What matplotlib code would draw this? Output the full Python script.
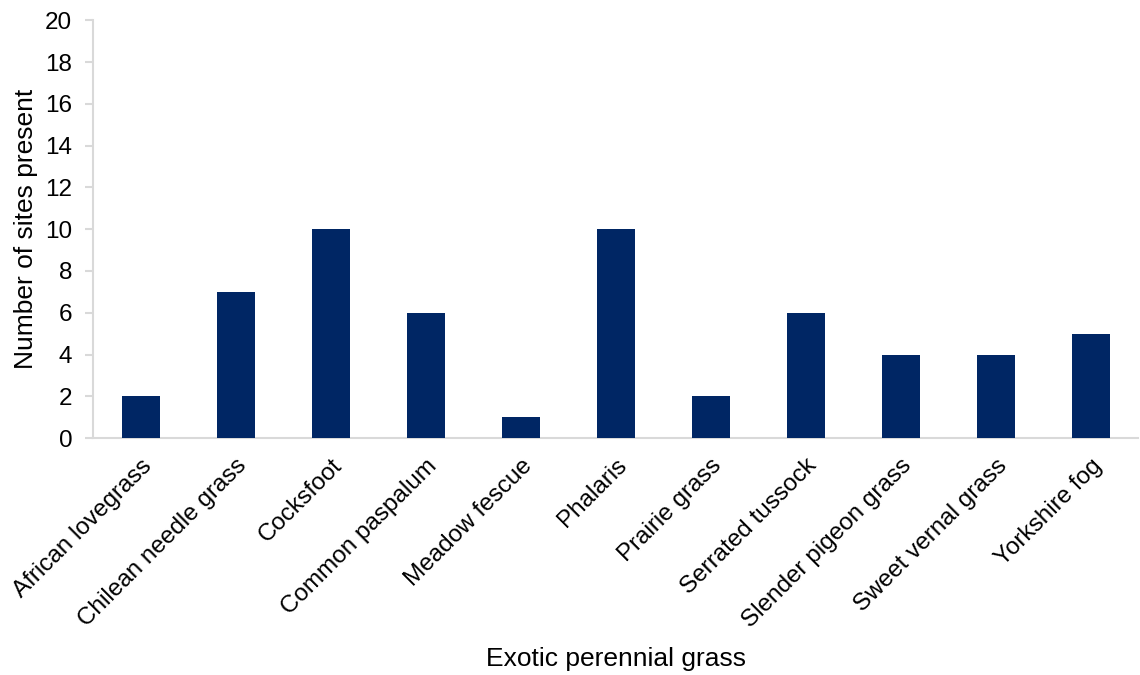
import matplotlib.pyplot as plt

plt.rcParams['font.family'] = ['Liberation Sans', 'DejaVu Sans']

grasses = ["African lovegrass", "Chilean needle grass", "Cocksfoot", "Common paspalum",
           "Meadow fescue", "Phalaris", "Prairie grass", "Serrated tussock",
           "Slender pigeon grass", "Sweet vernal grass", "Yorkshire fog"]
sites = [2, 7, 10, 6, 1, 10, 2, 6, 4, 4, 5]

fig = plt.figure(figsize=(11.4, 6.75), dpi=100)
ax = fig.add_axes([0.0816, 0.351, 0.917, 0.619])

ax.bar(range(len(grasses)), sites, width=0.4, color="#002664", zorder=3)

ax.set_xlim(-0.5, len(grasses) - 0.5)
ax.set_ylim(0, 20)
ax.set_yticks(range(0, 21, 2))
ax.set_xticks(range(len(grasses)))
ax.set_xticklabels(grasses, rotation=45, ha="right", rotation_mode="anchor")

for side in ("top", "right"):
    ax.spines[side].set_visible(False)
for side in ("left", "bottom"):
    ax.spines[side].set_color("#d9d9d9")
    ax.spines[side].set_linewidth(1.5)

ax.tick_params(axis="y", labelsize=17.5, length=6, color="#d9d9d9", width=1.5, pad=9)
ax.tick_params(axis="x", labelsize=17.5, length=0, pad=12)

ax.set_ylabel("Number of sites present", fontsize=19, labelpad=5)
ax.set_xlabel("Exotic perennial grass", fontsize=19)
ax.xaxis.set_label_coords(0.5, -0.5)

fig.savefig("out.png", dpi=100)
